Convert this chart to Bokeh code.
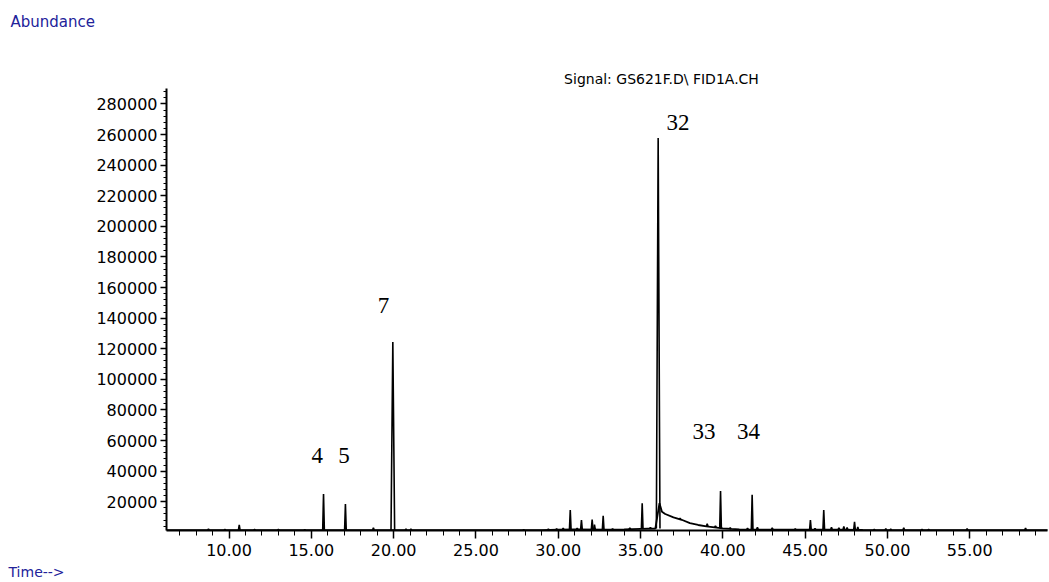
from bokeh.plotting import figure
from bokeh.models import FixedTicker, Range1d, Title
from bokeh.core.properties import value
from bokeh.embed import file_html
from bokeh.resources import INLINE

# ---------------- data ----------------
peak_time = [8.75, 9.75, 10.62, 11.55, 13.0, 14.6, 15.74, 17.07, 18.77, 19.95,
             20.75, 21.05, 27.9, 29.4, 29.9, 30.3, 30.73, 31.15, 31.41, 32.06,
             32.2, 32.73, 33.3, 34.35, 35.1, 35.6, 36.07, 37.4, 39.05, 39.55,
             39.86, 40.45, 41.5, 41.78, 42.1, 43.0, 44.4, 45.32, 45.6, 46.13,
             46.6, 47.05, 47.35, 47.55, 48.0, 48.2, 49.2, 49.9, 50.2, 50.99,
             52.1, 52.5, 54.84, 58.39]
peak_height = [2200, 1900, 4800, 1900, 2000, 1800, 25100, 18500, 3000, 124400,
               2200, 2100, 1800, 2200, 2300, 2700, 14500, 2600, 8000, 8400,
               5000, 10800, 2300, 3000, 19000, 3300, 257700, 9300, 5700, 4300,
               27000, 3000, 2600, 24500, 3300, 2900, 2300, 8000, 2600, 14500,
               3300, 3000, 3800, 3200, 6800, 3500, 2000, 2300, 2100, 3000,
               2000, 2000, 2500, 2800]
peak_base = [1500, 1500, 1500, 1500, 1500, 1500, 1500, 1500, 1500, 1500,
             1500, 1500, 1500, 1600, 1700, 1800, 1800, 1900, 1900, 1900,
             1900, 1800, 1800, 1900, 2200, 2400, 2500, 8500, 3900, 3200,
             2700, 2200, 1900, 1900, 1800, 1800, 1700, 1700, 1700, 1700,
             1700, 1700, 1700, 1700, 1700, 1600, 1500, 1500, 1500, 1500,
             1500, 1500, 1500, 1500]

baseline_time = [6.2, 29.0, 30.0, 31.0, 33.0, 34.0, 35.0, 35.9, 36.15, 36.3,
                 36.5, 37.0, 37.5, 38.0, 38.5, 39.0, 39.5, 40.0, 40.5, 41.0,
                 42.0, 44.0, 47.0, 48.5, 52.0, 59.8]
baseline_value = [1500, 1500, 1800, 1900, 1800, 1900, 2200, 2500, 19000, 13500,
                  12000, 9800, 8200, 6000, 4800, 3900, 3200, 2600, 2200, 2000,
                  1800, 1700, 1700, 1600, 1500, 1500]

label_text = ["4", "5", "7", "32", "33", "34"]
label_time = [15.36, 16.99, 19.38, 37.28, 38.86, 41.56]
label_value = [50200, 50200, 148300, 267900, 65900, 65900]

x_ticks = [10, 15, 20, 25, 30, 35, 40, 45, 50, 55]
x_tick_labels = ["10.00", "15.00", "20.00", "25.00", "30.00",
                 "35.00", "40.00", "45.00", "50.00", "55.00"]
x_minor_ticks = list(range(7, 60))
y_ticks = [20000, 40000, 60000, 80000, 100000, 120000, 140000,
           160000, 180000, 200000, 220000, 240000, 260000, 280000]
y_tick_labels = ["20000", "40000", "60000", "80000", "100000", "120000", "140000",
                 "160000", "180000", "200000", "220000", "240000", "260000", "280000"]
y_minor_ticks = list(range(4000, 290000, 4000))

title_text = "Signal: GS621F.D\\ FID1A.CH"

# ---------------- layout / styling ----------------
W, H = 1049, 582
ML, MR, MT, MB = 166, 2, 42, 52
frame_w = W - ML - MR
frame_h = H - MT - MB
px_per_min = 16.46
px_per_unit = 1.53 / 1000.0
x0 = 6.2
y0 = 1200
axis_top_px = 88            # page y where the y axis line starts
frame_bottom_px = H - MB


def x_at(px):
    return x0 + (px - ML) / px_per_min


def y_at(py):
    return y0 + (frame_bottom_px - py) / px_per_unit


p = figure(width=W, height=H, output_backend="svg", toolbar_location=None,
           x_range=Range1d(x0, x0 + frame_w / px_per_min),
           y_range=Range1d(y0, y0 + frame_h / px_per_unit),
           min_border_left=ML, min_border_right=MR,
           min_border_top=MT, min_border_bottom=MB)
p.outline_line_color = None
p.grid.visible = False
p.background_fill_color = "white"
p.border_fill_color = "white"

tick_font = "DejaVu Sans"
navy = "#22229a"

p.add_layout(Title(text="Abundance", align="left", offset=-156, vertical_align="top",
                   text_font=tick_font, text_font_size="15px",
                   text_font_style="normal", text_color=navy, standoff=20), "above")
p.add_layout(Title(text="Time-->", align="left", offset=-158,
                   text_font=tick_font, text_font_size="14px",
                   text_font_style="normal", text_color=navy, standoff=6), "below")

p.xaxis.ticker = FixedTicker(ticks=x_ticks, minor_ticks=x_minor_ticks)
p.xaxis.major_label_overrides = {t: l for t, l in zip(x_ticks, x_tick_labels)}
p.yaxis.ticker = FixedTicker(ticks=y_ticks, minor_ticks=y_minor_ticks)
p.yaxis.major_label_overrides = {t: l for t, l in zip(y_ticks, y_tick_labels)}
p.yaxis.bounds = (y0, y_at(axis_top_px))

for ax in (p.xaxis, p.yaxis):
    ax.axis_line_color = "black"
    ax.axis_line_width = 2
    ax.major_tick_line_color = "black"
    ax.minor_tick_line_color = "black"
    ax.major_tick_line_width = 1.5
    ax.minor_tick_line_width = 1
    ax.major_tick_in = 0
    ax.minor_tick_in = 0
    ax.major_label_text_font = tick_font
    ax.major_label_text_font_size = "16px"
    ax.major_label_text_color = "black"

p.xaxis.major_tick_out = 8
p.xaxis.minor_tick_out = 5
p.xaxis.major_label_standoff = 5
p.yaxis.major_tick_out = 6
p.yaxis.minor_tick_out = 3
p.yaxis.major_label_standoff = 3

# baseline / tail
p.line(baseline_time, baseline_value, line_color="black", line_width=1.8)

# peaks as narrow spikes
xs, ys = [], []
for t, h, b in zip(peak_time, peak_height, peak_base):
    hw = 0.11 if h > 50000 else 0.05
    xs.append([t - hw, t, t + hw])
    ys.append([b, h, b])
p.multi_line(xs, ys, line_color="black", line_width=1.6)

# peak numbers
p.text(x=label_time, y=label_value, text=label_text,
       text_font=value("Liberation Serif"), text_font_size="23px",
       text_color="black", text_align="center", text_baseline="middle")

# signal title (placed inside the enlarged frame, above the axis top)
p.text(x=[x_at(661)], y=[y_at(78)], text=[title_text],
       text_font=value(tick_font), text_font_size="14px",
       text_color="black", text_align="center", text_baseline="middle")

open("out.html", "w").write(file_html(p, INLINE))
